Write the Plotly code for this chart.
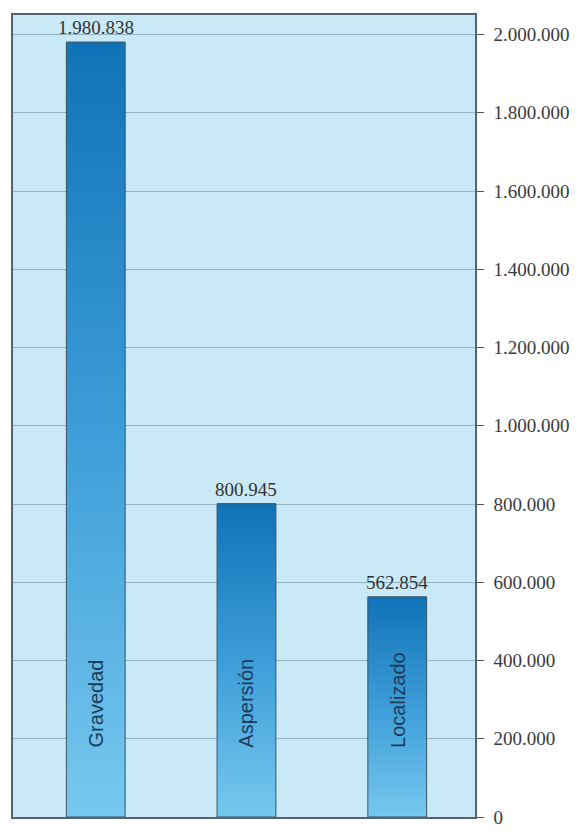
import plotly.graph_objects as go

categories = ["Gravedad", "Aspersión", "Localizado"]
values = [1980838, 800945, 562854]
value_labels = ["1.980.838", "800.945", "562.854"]
tick_values = [0, 200000, 400000, 600000, 800000, 1000000, 1200000, 1400000, 1600000, 1800000, 2000000]
tick_labels = ["0", "200.000", "400.000", "600.000", "800.000", "1.000.000",
               "1.200.000", "1.400.000", "1.600.000", "1.800.000", "2.000.000"]

x_pos = list(range(len(categories)))
bar_w = 0.39

fig = go.Figure()

for i, v in zip(x_pos, values):
    x0, x1 = i - bar_w / 2, i + bar_w / 2
    fig.add_trace(go.Scatter(
        x=[x0, x0, x1, x1, x0], y=[0, v, v, 0, 0],
        mode="lines", fill="toself",
        fillgradient=dict(type="vertical",
                          colorscale=[[0, "#76c8ef"], [0.5, "#3c9dd8"], [1, "#1173b7"]]),
        line=dict(color="#3a5262", width=1),
        hoverinfo="skip", showlegend=False,
    ))

for i, v, lab in zip(x_pos, values, value_labels):
    fig.add_annotation(
        x=i, y=v, text=lab, showarrow=False,
        xanchor="center", yanchor="bottom", yshift=2,
        font=dict(family="Liberation Serif", size=19, color="#333333"),
    )

for i, cat in zip(x_pos, categories):
    fig.add_annotation(
        x=i, y=172000, text=cat, textangle=-90, showarrow=False,
        xanchor="center", yanchor="bottom",
        font=dict(family="Liberation Sans", size=20, color="#1d3c58"),
    )

fig.update_layout(
    width=581, height=839,
    margin=dict(l=12, r=100, t=15, b=11),
    paper_bgcolor="white",
    plot_bgcolor="#c9e9f6",
    showlegend=False,
    xaxis=dict(range=[-0.549, 2.516], showticklabels=False, showgrid=False,
               zeroline=False, showline=True, mirror=True, linecolor="#55646c",
               linewidth=1.5, ticks=""),
    yaxis=dict(range=[0, 2050000], side="right", tickvals=tick_values, ticktext=tick_labels,
               ticks="outside", ticklen=7, tickcolor="#555555", tickwidth=1,
               showgrid=True, gridcolor="#92b4c4", gridwidth=1, zeroline=False,
               showline=True, mirror=True, linecolor="#55646c", linewidth=1.5,
               ticklabelstandoff=6,
               tickfont=dict(family="Liberation Serif", size=19, color="#3a3a3a")),
)

fig.write_html("out.html")
